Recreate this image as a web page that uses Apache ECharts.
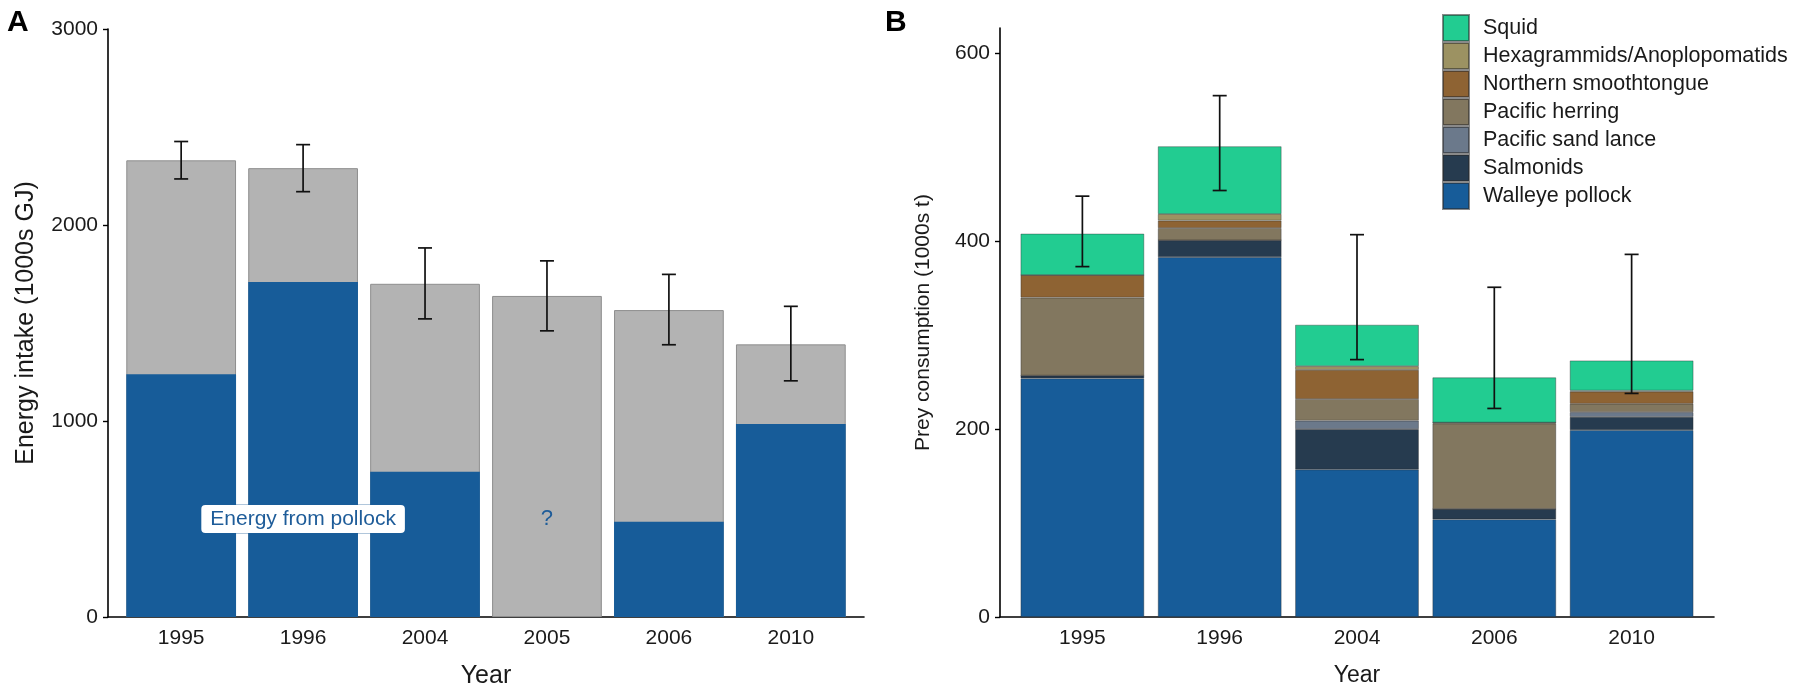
<!DOCTYPE html>
<html>
<head>
<meta charset="utf-8">
<script src="https://cdn.jsdelivr.net/npm/echarts@6/dist/echarts.min.js"></script>
<style>
html,body{margin:0;padding:0;background:#fff;}
#chart{width:1798px;height:689px;}
</style>
</head>
<body>
<div id="chart"></div>
<script>
// ---------- Panel A data ----------
const yearsA = ['1995', '1996', '2004', '2005', '2006', '2010'];
const energyTotal = [2330, 2290, 1700, 1638, 1566, 1391];
const energyPollock = [1238, 1709, 741, null, 486, 985];
const energyErrLow = [2235, 2170, 1521, 1460, 1389, 1205];
const energyErrHigh = [2426, 2410, 1883, 1817, 1748, 1585];
const ticksA = [0, 1000, 2000, 3000];
const notesA = [
  { year: '1996', value: 500, text: 'Energy from pollock', boxed: true },
  { year: '2005', value: 500, text: '?', boxed: false }
];

// ---------- Panel B data ----------
const yearsB = ['1995', '1996', '2004', '2006', '2010'];
const preyNames = ['Walleye pollock', 'Salmonids', 'Pacific sand lance', 'Pacific herring',
  'Northern smoothtongue', 'Hexagrammids/Anoplopomatids', 'Squid'];
const walleye = [254, 383, 157, 104, 199];
const salmonids = [3, 18, 43, 11, 14];
const sandLance = [0, 0, 9, 0, 5];
const herring = [83, 13, 23, 91, 9];
const smoothtongue = [24, 8, 31, 1, 13];
const hexagrammids = [0, 7, 4, 0, 1];
const squid = [44, 72, 44, 48, 32];
const preyErrLow = [373, 454, 274, 222, 238];
const preyErrHigh = [448, 555, 407, 351, 386];
const ticksB = [0, 200, 400, 600];

const preyValues = [walleye, salmonids, sandLance, herring, smoothtongue, hexagrammids, squid];
const preyColors = ['#175C99', '#263B4F', '#6B798B', '#82775F', '#8E6333', '#9C9262', '#22CC91'];

const FONT = 'Liberation Sans, Arial, Helvetica, sans-serif';
const TXT = '#1a1a1a';

// panel frames (outer = full axis extent incl. ggplot-like padding of 0.6 units each side)
const frameA = { left: 108, top: 29, width: 756, height: 588, max: 3000 };
const frameB = { left: 1000, top: 28, width: 714, height: 589, max: 627 };
function innerOf(f, n) {
  const unit = f.width / (n + 0.2);
  return { left: f.left + 0.1 * unit, top: f.top, width: unit * n, height: f.height };
}
const innerA = innerOf(frameA, yearsA.length);
const innerB = innerOf(frameB, yearsB.length);
function gridOf(g) {
  return { left: g.left, top: g.top, width: g.width, height: g.height, containLabel: false, outerBoundsMode: 'none' };
}

function errRender(params, api) {
  const x = api.value(0), lo = api.value(1), hi = api.value(2);
  const a = api.coord([x, lo]), b = api.coord([x, hi]);
  const hw = 7;
  const st = { stroke: '#111', lineWidth: 1.7 };
  return {
    type: 'group',
    children: [
      { type: 'line', shape: { x1: a[0], y1: a[1], x2: b[0], y2: b[1] }, style: st },
      { type: 'line', shape: { x1: a[0] - hw, y1: a[1], x2: a[0] + hw, y2: a[1] }, style: st },
      { type: 'line', shape: { x1: b[0] - hw, y1: b[1], x2: b[0] + hw, y2: b[1] }, style: st }
    ]
  };
}

function noteRender(params, api) {
  const n = notesA[params.dataIndex];
  const p = api.coord([api.value(0), api.value(1)]);
  const style = {
    text: n.text, x: p[0], y: p[1], align: 'center', verticalAlign: 'middle',
    fill: '#1E5C99', fontSize: n.boxed ? 21 : 22, fontFamily: FONT
  };
  if (n.boxed) {
    style.backgroundColor = '#ffffff';
    style.borderColor = 'rgba(30,92,153,0.35)';
    style.borderWidth = 1;
    style.borderRadius = 4;
    style.padding = [4, 9, 3, 9];
  }
  return { type: 'text', style: style };
}

function outerX(gi, n, nameSize, gap) {
  return {
    type: 'value', gridIndex: gi, min: 0.4, max: n + 0.6,
    name: 'Year', nameLocation: 'middle', nameGap: gap,
    nameTextStyle: { fontSize: nameSize, color: TXT, fontFamily: FONT },
    axisLine: { show: true, onZero: false, lineStyle: { color: '#000', width: 1.6 } },
    axisTick: { show: false }, axisLabel: { show: false }, splitLine: { show: false }
  };
}
function innerX(gi, cats) {
  return {
    type: 'category', gridIndex: gi, data: cats,
    axisLine: { show: false }, axisTick: { show: false }, splitLine: { show: false },
    axisLabel: { margin: 11, fontSize: 21, color: TXT, fontFamily: FONT }
  };
}
function outerY(gi, max, ticks, name, nameSize, gap) {
  return {
    type: 'value', gridIndex: gi, min: 0, max: max,
    name: name, nameLocation: 'middle', nameGap: gap, nameRotate: 90,
    nameTextStyle: { fontSize: nameSize, color: TXT, fontFamily: FONT },
    axisLine: { show: true, lineStyle: { color: '#000', width: 1.6 } },
    axisTick: { show: true, length: 5, customValues: ticks, lineStyle: { color: '#000', width: 1.4 } },
    splitLine: { show: false },
    axisLabel: { customValues: ticks, margin: 10, fontSize: 21, color: TXT, fontFamily: FONT, formatter: v => String(v) }
  };
}
function innerY(gi, max) {
  return {
    type: 'value', gridIndex: gi, min: 0, max: max, show: false,
    axisLine: { show: false }, axisTick: { show: false }, axisLabel: { show: false }, splitLine: { show: false }
  };
}

const series = [];
// Panel A bars on inner grid (xAxis 1 / yAxis 1): total behind, pollock in front
series.push({
  type: 'bar', xAxisIndex: 1, yAxisIndex: 1, barWidth: '90%', barGap: '-100%',
  data: energyTotal,
  itemStyle: { color: '#B3B3B3', borderColor: '#8E8E8E', borderWidth: 1 },
  silent: true
});
series.push({
  type: 'bar', xAxisIndex: 1, yAxisIndex: 1, barWidth: '90%', barGap: '-100%',
  data: energyPollock,
  itemStyle: { color: '#175C99' },
  silent: true
});
series.push({
  type: 'custom', xAxisIndex: 1, yAxisIndex: 1, renderItem: errRender, z: 5,
  encode: { x: 0, y: [1, 2] },
  data: yearsA.map((y, i) => [i, energyErrLow[i], energyErrHigh[i]])
});
series.push({
  type: 'custom', xAxisIndex: 1, yAxisIndex: 1, renderItem: noteRender, z: 6,
  encode: { x: 0, y: 1 },
  data: notesA.map(n => [yearsA.indexOf(n.year), n.value])
});

// Panel B stacked bars on inner grid (xAxis 3 / yAxis 3)
preyNames.forEach((name, k) => {
  series.push({
    type: 'bar', name: name, xAxisIndex: 3, yAxisIndex: 3, stack: 'prey', barWidth: '90%',
    data: preyValues[k],
    itemStyle: { color: preyColors[k], borderColor: 'rgba(40,40,40,0.55)', borderWidth: 0.7 },
    silent: true
  });
});
series.push({
  type: 'custom', xAxisIndex: 3, yAxisIndex: 3, renderItem: errRender, z: 5,
  encode: { x: 0, y: [1, 2] },
  data: yearsB.map((y, i) => [i, preyErrLow[i], preyErrHigh[i]])
});

const option = {
  animation: false,
  backgroundColor: '#fff',
  textStyle: { fontFamily: FONT },
  grid: [gridOf(frameA), gridOf(innerA), gridOf(frameB), gridOf(innerB)],
  xAxis: [
    outerX(0, yearsA.length, 25, 47),
    innerX(1, yearsA),
    outerX(2, yearsB.length, 23, 47),
    innerX(3, yearsB)
  ],
  yAxis: [
    outerY(0, frameA.max, ticksA, 'Energy intake (1000s GJ)', 25, 69),
    innerY(1, frameA.max),
    outerY(2, frameB.max, ticksB, 'Prey consumption (1000s t)', 21, 66),
    innerY(3, frameB.max)
  ],
  legend: {
    orient: 'vertical', left: 1442, top: 14, itemWidth: 26, itemHeight: 26, itemGap: 0,
    icon: 'rect', padding: 0,
    data: preyNames.slice().reverse(),
    textStyle: { fontSize: 21.5, color: TXT, fontFamily: FONT, padding: [0, 0, 0, 9] }
  },
  title: [
    { text: 'A', left: 2, top: 3, textStyle: { fontSize: 30, fontWeight: 'bold', color: '#000', fontFamily: FONT } },
    { text: 'B', left: 880, top: 3, textStyle: { fontSize: 30, fontWeight: 'bold', color: '#000', fontFamily: FONT } }
  ],
  series: series
};

const chart = echarts.init(document.getElementById('chart'), null, { renderer: 'canvas' });
chart.setOption(option);
</script>
</body>
</html>
